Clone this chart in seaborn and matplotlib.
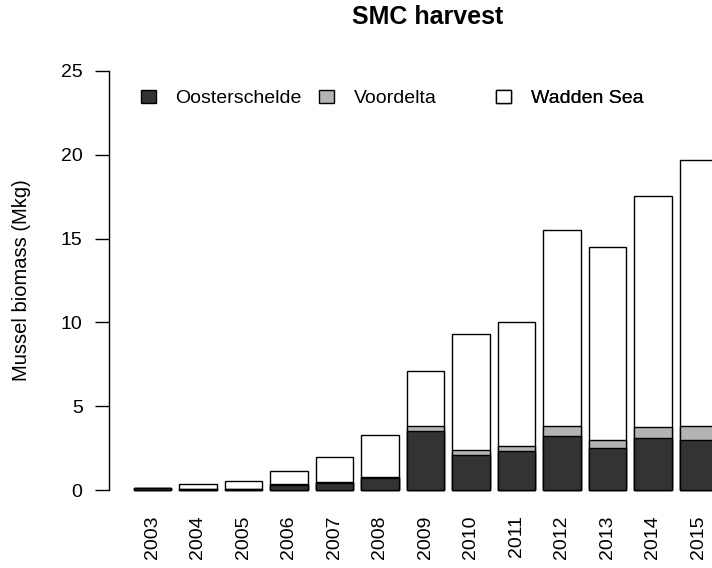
# SMC harvest - stacked bars per region (seaborn)

import pandas as pd
import matplotlib
matplotlib.use("Agg")
import matplotlib.pyplot as plt
from matplotlib.patches import Patch
import seaborn as sns

years = [2003, 2004, 2005, 2006, 2007, 2008, 2009, 2010, 2011, 2012, 2013, 2014, 2015]
oosterschelde = [0.10, 0.05, 0.05, 0.30, 0.40, 0.70, 3.50, 2.10, 2.30, 3.20, 2.50, 3.10, 3.00]
voordelta = [0.00, 0.00, 0.00, 0.05, 0.10, 0.10, 0.30, 0.30, 0.35, 0.60, 0.50, 0.65, 0.80]
wadden_sea = [0.05, 0.30, 0.50, 0.80, 1.50, 2.50, 3.30, 6.90, 7.35, 11.70, 11.50, 13.80, 15.90]

regions = ["Oosterschelde", "Voordelta", "Wadden Sea"]
colors = ["#333333", "#b3b3b3", "#ffffff"]


def main():
    sns.set_theme(style="white")
    plt.rcParams["font.family"] = ["Liberation Sans", "DejaVu Sans"]
    plt.rcParams["text.color"] = "black"

    df = pd.DataFrame({
        "year": [str(y) for y in years],
        "oost": oosterschelde,
        "voor": voordelta,
        "wadden": wadden_sea,
    })
    df["oost_voor"] = df["oost"] + df["voor"]
    df["total"] = df["oost_voor"] + df["wadden"]

    W, H = 712, 568
    fig = plt.figure(figsize=(W / 100, H / 100), dpi=100)
    ax = fig.add_axes([109 / W, (H - 506.8) / H, (W - 109) / W, 452.6 / H])

    # cumulative layers, back to front
    for col, color in [("total", colors[2]), ("oost_voor", colors[1]), ("oost", colors[0])]:
        sns.barplot(data=df, x="year", y=col, color=color, saturation=1,
                    width=0.833, edgecolor="black", linewidth=1,
                    errorbar=None, ax=ax)

    ax.set_xlim(-0.956, 12.297)
    ax.set_ylim(-1, 26)

    for side in ["top", "right", "bottom"]:
        ax.spines[side].set_visible(False)
    ax.spines["left"].set_bounds(0, 25)
    ax.spines["left"].set_color("black")
    ax.spines["left"].set_linewidth(1)

    ax.set_yticks(range(0, 26, 5))
    ax.tick_params(axis="y", left=True, length=10, width=1, pad=9,
                   labelsize=14, colors="black", direction="out")
    ax.tick_params(axis="x", bottom=False, length=0, pad=6,
                   labelrotation=90, labelsize=14, colors="black")

    ax.set_xlabel("")
    ax.set_ylabel("Mussel biomass (Mkg)", fontsize=14.5, color="black")
    ax.yaxis.set_label_coords((31 - 109) / (W - 109), 0.5)

    fig.text(428 / W, 1 - 17 / H, "SMC harvest", ha="center", va="center",
             fontsize=18, fontweight="bold")

    # horizontal legend with evenly spaced entries
    box_x = [141, 319, 496]
    for name, color, bx in zip(regions, colors, box_x):
        handle = Patch(facecolor=color, edgecolor="black", linewidth=1)
        leg = ax.legend(handles=[handle], labels=[name], loc="center left",
                        bbox_to_anchor=(bx / W, 1 - 98.5 / H),
                        bbox_transform=fig.transFigure, frameon=False,
                        borderpad=0, borderaxespad=0, fontsize=14,
                        handlelength=0.78, handleheight=0.66,
                        handletextpad=1.0)
        ax.add_artist(leg)

    fig.savefig("out.png", dpi=100)
    plt.close(fig)


if __name__ == "__main__":
    main()
